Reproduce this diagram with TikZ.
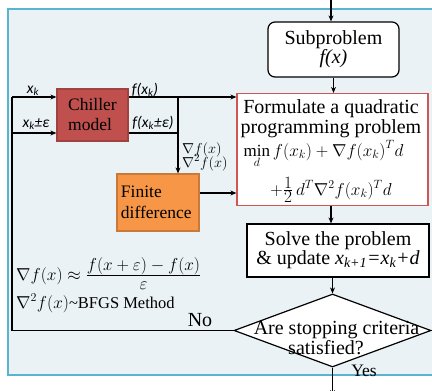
\documentclass[tikz,border=0pt]{standalone}
\usepackage{fontspec}
\setmainfont{Liberation Serif}
\newfontfamily\labfont{Carlito}
\usetikzlibrary{arrows.meta,shapes.geometric}
\definecolor{panelfill}{HTML}{EAF2F6}
\definecolor{panelline}{HTML}{5BB4CF}
\definecolor{chillerfill}{HTML}{C0504D}
\definecolor{chillerline}{HTML}{A04340}
\definecolor{fdfill}{HTML}{F79646}
\definecolor{fdline}{HTML}{C77A3A}
\definecolor{qpline}{HTML}{D05555}
\begin{document}
\begin{tikzpicture}[x=1pt,y=-1pt,
  box/.style={draw=black, line width=1.2pt, fill=white, inner sep=0pt, align=center},
  flow/.style={line width=1.2pt, -{Stealth[length=6pt,width=5pt]}},
  link/.style={line width=1.2pt},
  big/.style={font=\fontsize{20}{20}\selectfont},
  mid/.style={font=\fontsize{17.5}{20}\selectfont},
  lab/.style={font=\labfont\itshape\fontsize{15.5}{15}\selectfont, inner sep=0pt},
  eq/.style={font=\fontsize{17}{18}\selectfont, inner sep=0pt},
  sideeq/.style={font=\fontsize{16.5}{18}\selectfont, inner sep=0pt}]
\useasboundingbox (0,0) rectangle (432,391);
\clip (0,0) rectangle (432,391);
\fill[white] (0,0) rectangle (432,391);
% background panel
\draw[panelline, fill=panelfill, line width=1.5pt] (8,9) rectangle (445,375);

% boxes
\node[box, rounded corners=7pt, minimum width=131pt, minimum height=55pt, big] (sub) at (333.5,49.5) {Subproblem\\[-1pt]\textit{f(x)}};
\node[box, draw=qpline, minimum width=191pt, minimum height=112pt] (qp) at (332.5,149.5) {};
\node[big, align=center, inner sep=0pt] (qptitle) at (331,118.5) {Formulate a quadratic\\programming problem};
\node[eq, anchor=base] (qpmin) at (323.5,156) {$\displaystyle\min_d f(x_k)+\nabla f(x_k)^T d$};
\node[eq, anchor=base] (qpsec) at (331,195) {$+\frac{\displaystyle 1}{\displaystyle 2}\,d^T\nabla^2 f(x_k)^T d$};
\node[box, minimum width=182pt, minimum height=53pt, big] (solve) at (338,250.5) {Solve the problem\\[-1pt]\& update {\itshape x\textsubscript{k+1}=x\textsubscript{k}+d}\hspace{10pt}};
\node[box, diamond, minimum width=197pt, minimum height=73pt] (stop) at (332.5,330.5) {};
\node[big, anchor=base, inner sep=0pt] (stop1) at (336.5,334) {Are stopping criteria};
\node[big, anchor=base, inner sep=0pt] (stop2) at (326,354) {satisfied?};

\node[box, draw=chillerline, fill=chillerfill, minimum width=71pt, minimum height=52pt, mid, align=left] (chiller) at (92.5,115) {Chiller\\model};
\node[box, draw=fdline, fill=fdfill, minimum width=82pt, minimum height=57pt, mid, align=left, text width=74pt] (fd) at (158,202.5) {Finite\\[1pt]difference};

% connectors
\coordinate (topin) at (331,-2);
\coordinate (lc) at (12,97);
\coordinate (lc2) at (12,133);
\coordinate (jn) at (178,97);
\coordinate (jn2) at (178,133);
\coordinate (fdo) at (199,193);
\coordinate (out) at (332.5,396);
\draw[flow] (topin) -- (topin |- sub.north);
\draw[flow] (sub.south) -- (sub.south |- qp.north);
\draw[flow] (qp.south -| topin) -- (topin |- solve.north);
\draw[flow] (solve.south -| stop.north) -- (stop.north);
\draw[flow] (stop.south) -- (out);
\draw[link] (stop.west) -- (stop.west -| lc) -- (lc);
\draw[flow] (lc) -- (lc -| chiller.west);
\draw[flow] (lc2) -- (lc2 -| chiller.west);
\draw[flow] (chiller.east |- lc) -- (lc -| qp.west);
\draw[link] (chiller.east |- lc2) -- (jn2);
\draw[flow] (jn) -- (jn |- fd.north);
\draw[flow] (fd.east |- fdo) -- (fdo -| qp.west);

% labels
\node[lab, anchor=base] (lxk) at (33,93) {x\textsubscript{k}};
\node[lab, anchor=base] (lxke) at (36,127) {x\textsubscript{k}±ε};
\node[lab, anchor=base] (lfx) at (145,94) {f(x\textsubscript{k})};
\node[lab, anchor=base] (lfxe) at (153,127) {f(x\textsubscript{k}±ε)};
\node[font=\fontsize{15.5}{18}\selectfont, align=left, anchor=north west, inner sep=0pt] (lgrad) at (182,142) {$\nabla f(x)$\\[-4pt]$\nabla^2 f(x)$};
\node[sideeq, anchor=base west] (fdeq) at (16,280) {$\nabla f(x)\approx\frac{\displaystyle f(x+\varepsilon)-f(x)}{\rule{0pt}{13pt}\displaystyle\varepsilon}$};
\node[sideeq, anchor=base west] (bfgs) at (16,308) {$\nabla^2 f(x)$\textasciitilde BFGS Method};
\node[big, anchor=base, inner sep=0pt] (no) at (200,326) {No};
\node[mid, anchor=base, inner sep=0pt] (yes) at (364,376) {Yes};
\end{tikzpicture}
\end{document}
